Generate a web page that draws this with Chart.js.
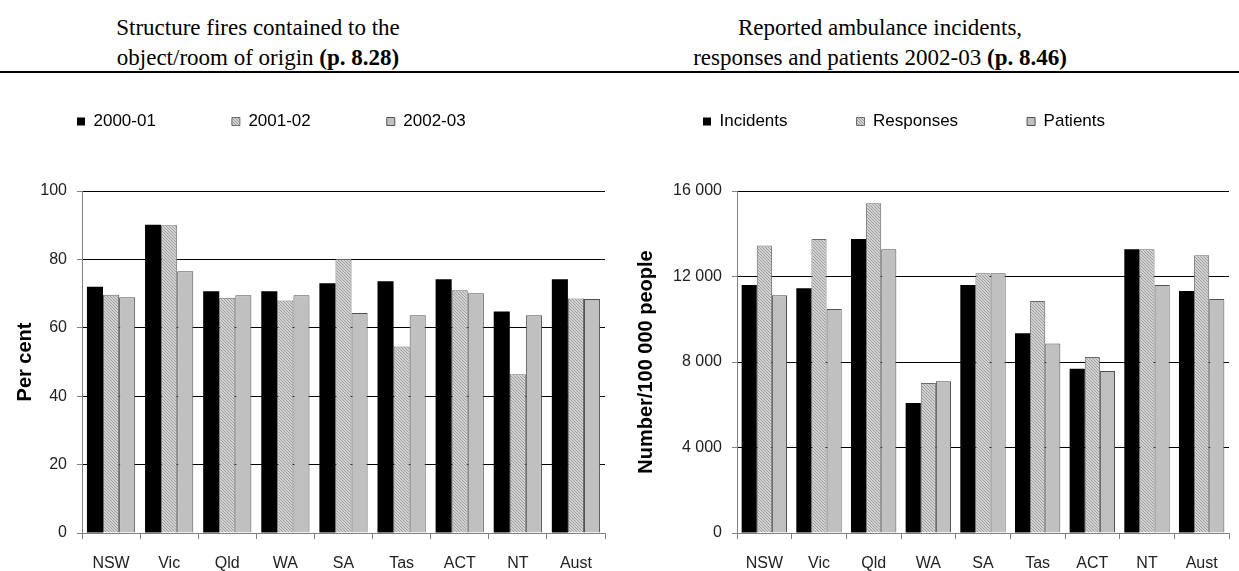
<!DOCTYPE html>
<html lang="en">
  <head>
    <meta charset="UTF-8" />
    <title>Fires and ambulance</title>
    <script src="https://cdn.jsdelivr.net/npm/chart.js"></script>
    <style>
      body {
        margin: 0;
        width: 1239px;
        height: 571px;
        background: #fff;
        position: relative;
        overflow: hidden;
      }
      .title {
        position: absolute;
        top: 13px;
        font-family: "Liberation Serif", serif;
        font-size: 23px;
        line-height: 30px;
        text-align: center;
        color: #000;
      }
      .rule {
        position: absolute;
        left: 0;
        top: 71px;
        width: 1239px;
        height: 2px;
        background: #000;
      }
      .box {
        position: absolute;
      }
    </style>
  </head>
  <body>
    <div class="title" style="left: 0; width: 516px">
      Structure fires contained to the<br />object/room of origin <b>(p. 8.28)</b>
    </div>
    <div class="title" style="left: 620px; width: 520px">
      Reported ambulance incidents,<br />responses and patients 2002-03
      <b>(p. 8.46)</b>
    </div>
    <div class="rule"></div>

    <div class="box" style="left: 1px; top: 37px; width: 619px; height: 534px">
      <canvas id="firesChart"></canvas>
    </div>
    <div class="box" style="left: 634px; top: 44px; width: 605px; height: 527px">
      <canvas id="ambulanceChart"></canvas>
    </div>

    <script>
      // categories shared by both charts
      const categories = ["NSW", "Vic", "Qld", "WA", "SA", "Tas", "ACT", "NT", "Aust"];

      // structure fires contained (per cent)
      const fireYears = ["2000-01", "2001-02", "2002-03"];
      const fires0001 = [72, 90.1, 70.7, 70.7, 73, 73.6, 74.2, 64.8, 74.2];
      const fires0102 = [69.7, 90, 68.8, 68, 80.1, 54.5, 71, 46.4, 68.6];
      const fires0203 = [68.9, 76.5, 69.5, 69.5, 64.3, 63.7, 70.1, 63.7, 68.4];

      // ambulance per 100 000 people, 2002-03
      const ambulanceSeries = ["Incidents", "Responses", "Patients"];
      const incidents = [11600, 11450, 13750, 6080, 11600, 9350, 7680, 13280, 11320];
      const responses = [13450, 13750, 15430, 7020, 12150, 10850, 8230, 13280, 13000];
      const patients = [11120, 10480, 13270, 7100, 12150, 8870, 7580, 11600, 10950];

      const sans = "'Liberation Sans', Arial, sans-serif";

      // fine diagonal hatch for the middle series
      function hatch() {
        const c = document.createElement("canvas");
        c.width = 3;
        c.height = 3;
        const g = c.getContext("2d");
        g.fillStyle = "#d2d2d2";
        g.fillRect(0, 0, 3, 3);
        g.fillStyle = "#9e9e9e";
        for (let i = 0; i < 3; i++) g.fillRect(i, i, 1, 1);
        return g.createPattern(c, "repeat");
      }

      // push the plot down below the legend
      function legendGap(extra) {
        return {
          id: "legendGap",
          beforeInit(chart) {
            const fit = chart.legend.fit;
            chart.legend.fit = function () {
              fit.bind(chart.legend)();
              this.height += extra;
            };
          },
        };
      }

      function spaced(v) {
        return String(v).replace(/\B(?=(\d{3})+(?!\d))/g, " ");
      }

      function makeDatasets(names, series) {
        const fills = ["#000000", hatch(), "#c0c0c0"];
        const borders = ["#000000", "#6a6a6a", "#505050"];
        return names.map((name, i) => ({
          label: name,
          data: series[i],
          backgroundColor: fills[i],
          borderColor: borders[i],
          borderWidth: i === 0 ? 0 : 1,
          categoryPercentage: 0.83,
          barPercentage: 1,
        }));
      }

      function makeChart(id, opts) {
        return new Chart(document.getElementById(id), {
          type: "bar",
          data: {
            labels: categories,
            datasets: makeDatasets(opts.names, opts.series),
          },
          options: {
            responsive: true,
            maintainAspectRatio: false,
            animation: false,
            layout: { padding: { right: opts.padRight } },
            plugins: {
              tooltip: { enabled: false },
              legend: {
                position: "top",
                align: "start",
                labels: {
                  color: "#000",
                  font: { family: sans, size: 17 },
                  boxWidth: 8,
                  boxHeight: 8,
                  padding: opts.legendPad,
                },
              },
            },
            scales: {
              x: {
                grid: {
                  drawOnChartArea: false,
                  tickLength: 6,
                  tickColor: "#808080",
                },
                border: { color: "#808080" },
                ticks: {
                  color: "#222",
                  padding: 15,
                  maxRotation: 0,
                  font: { family: sans, size: 16 },
                },
                afterFit(scale) {
                  scale.height = 38;
                },
              },
              y: {
                min: 0,
                max: opts.max,
                ticks: {
                  stepSize: opts.step,
                  padding: 10,
                  color: "#222",
                  font: { family: sans, size: 16 },
                  callback: (v) => spaced(v),
                },
                grid: {
                  color: (ctx) => (ctx.tick && ctx.tick.value === 0 ? "#808080" : "#000"),
                  tickColor: "#808080",
                  tickLength: 5,
                },
                border: { color: "#808080" },
                title: {
                  display: true,
                  text: opts.yTitle,
                  color: "#000",
                  font: { family: sans, size: 20, weight: "bold" },
                  padding: { top: opts.titlePad, bottom: 0 },
                },
                afterFit(scale) {
                  scale.width = opts.axisWidth;
                },
              },
            },
          },
          plugins: [legendGap(51)],
        });
      }

      makeChart("firesChart", {
        names: fireYears,
        series: [fires0001, fires0102, fires0203],
        max: 100,
        step: 20,
        yTitle: "Per cent",
        axisWidth: 81,
        titlePad: 12,
        legendPad: 76,
        padRight: 15,
      });

      makeChart("ambulanceChart", {
        names: ambulanceSeries,
        series: [incidents, responses, patients],
        max: 16000,
        step: 4000,
        yTitle: "Number/100 000 people",
        axisWidth: 103,
        titlePad: 0,
        legendPad: 69,
        padRight: 10,
      });
    </script>
  </body>
</html>
